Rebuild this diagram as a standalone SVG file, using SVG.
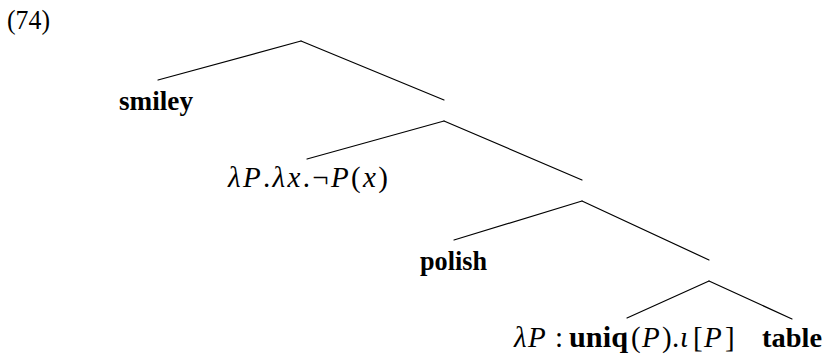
<svg xmlns="http://www.w3.org/2000/svg" width="824" height="356" viewBox="0 0 824 356">
<style>
text{font-family:"Liberation Serif","Times New Roman",serif;font-size:28px;fill:#000}
.m{font-size:29px}
.b{font-weight:bold}
.i{font-style:italic}
.e line{stroke:#000;stroke-width:1.2;stroke-linecap:round}
</style>
<rect width="824" height="356" fill="#fff"/>
<g id="label"><text x="7" y="29" textLength="43" lengthAdjust="spacingAndGlyphs">(74)</text></g>
<g id="connectors" class="e">
<line x1="158" y1="80" x2="301" y2="41"/>
<line x1="301" y1="41" x2="444" y2="100"/>
<line x1="307" y1="159" x2="444" y2="121"/>
<line x1="444" y1="121" x2="582" y2="180"/>
<line x1="454" y1="240" x2="582" y2="201"/>
<line x1="582" y1="201" x2="709" y2="260"/>
<line x1="627" y1="318" x2="709" y2="281"/>
<line x1="709" y1="281" x2="792" y2="319"/>
</g>
<g id="n-smiley"><text class="b" x="119" y="110" textLength="74" lengthAdjust="spacingAndGlyphs">smiley</text></g>
<g id="n-neg"><text class="m" x="228" y="187" textLength="160" lengthAdjust="spacing"><tspan class="i">λP</tspan>.<tspan class="i">λx</tspan>.¬<tspan class="i">P</tspan>(<tspan class="i">x</tspan>)</text></g>
<g id="n-polish"><text class="b" x="420" y="270" textLength="67" lengthAdjust="spacingAndGlyphs">polish</text></g>
<g id="n-the"><text class="m" y="347"><tspan class="i" x="514">λ</tspan><tspan class="i" x="528">P</tspan><tspan x="555">:</tspan><tspan class="b" x="569" textLength="59" lengthAdjust="spacingAndGlyphs">uniq</tspan><tspan x="631">(</tspan><tspan class="i" x="642">P</tspan><tspan x="662">)</tspan><tspan x="672">.</tspan><tspan class="i" x="680">ι</tspan><tspan x="693">[</tspan><tspan class="i" x="704">P</tspan><tspan x="725">]</tspan></text></g>
<g id="n-table"><text class="b" x="762" y="347" textLength="60" lengthAdjust="spacingAndGlyphs">table</text></g>
</svg>
